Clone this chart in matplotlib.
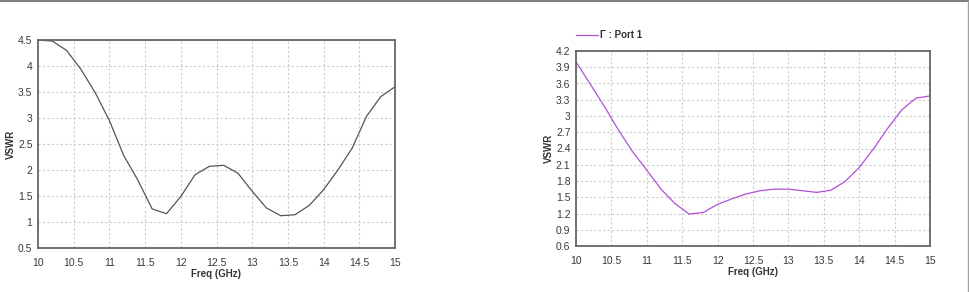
import matplotlib
matplotlib.use("Agg")
import matplotlib.pyplot as plt
from matplotlib.lines import Line2D

plt.rcParams['font.family'] = ['Liberation Sans', 'DejaVu Sans']

# frequency samples (GHz)
freq = [10.0, 10.2, 10.4, 10.6, 10.8, 11.0, 11.2, 11.4, 11.6, 11.8, 12.0, 12.2, 12.4,
        12.6, 12.8, 13.0, 13.2, 13.4, 13.6, 13.8, 14.0, 14.2, 14.4, 14.6, 14.8, 15.0]

# left chart VSWR
vswr_left = [4.50, 4.48, 4.30, 3.94, 3.49, 2.95, 2.28, 1.80, 1.25, 1.16, 1.49, 1.91, 2.07,
             2.09, 1.94, 1.59, 1.27, 1.12, 1.14, 1.32, 1.62, 2.00, 2.42, 3.03, 3.41, 3.60]

# right chart VSWR (Port 1)
vswr_right = [4.00, 3.59, 3.18, 2.74, 2.34, 2.00, 1.65, 1.38, 1.19, 1.22, 1.37, 1.47, 1.56,
              1.62, 1.65, 1.65, 1.62, 1.59, 1.63, 1.79, 2.05, 2.39, 2.77, 3.11, 3.33, 3.37]

x_ticks = [10, 10.5, 11, 11.5, 12, 12.5, 13, 13.5, 14, 14.5, 15]
x_ticklabels = ["10", "10.5", "11", "11.5", "12", "12.5", "13", "13.5", "14", "14.5", "15"]
y_ticks_left = [0.5, 1, 1.5, 2, 2.5, 3, 3.5, 4, 4.5]
y_ticklabels_left = ["0.5", "1", "1.5", "2", "2.5", "3", "3.5", "4", "4.5"]
y_ticks_right = [0.6, 0.9, 1.2, 1.5, 1.8, 2.1, 2.4, 2.7, 3.0, 3.3, 3.6, 3.9, 4.2]
y_ticklabels_right = ["0.6", "0.9", "1.2", "1.5", "1.8", "2.1", "2.4", "2.7", "3", "3.3", "3.6", "3.9", "4.2"]

fig = plt.figure(figsize=(9.7, 2.92), dpi=100)

ax1 = fig.add_axes([38 / 970, 1 - 248 / 292, 357 / 970, 208 / 292])
ax2 = fig.add_axes([576 / 970, 1 - 246 / 292, 354 / 970, 195 / 292])


def style(ax, yticks, ylabels):
    ax.set_xlim(10, 15)
    ax.set_ylim(yticks[0], yticks[-1])
    ax.set_xticks(x_ticks)
    ax.set_xticklabels(x_ticklabels)
    ax.set_yticks(yticks)
    ax.set_yticklabels(ylabels)
    ax.tick_params(length=0, labelsize=7.5, colors="#3a3a3a")
    ax.tick_params(axis="x", pad=7)
    ax.tick_params(axis="y", pad=4)
    ax.grid(True, color="#cccccc", linestyle=(0, (2, 2)), linewidth=0.8)
    for s in ax.spines.values():
        s.set_color("#666666")
        s.set_linewidth(1.3)
    ax.set_xlabel("Freq (GHz)", fontsize=7, fontweight="bold", color="#333333", labelpad=1)
    ax.set_ylabel("VSWR", fontsize=7, fontweight="bold", color="#333333", labelpad=1.5)


style(ax1, y_ticks_left, y_ticklabels_left)
style(ax2, y_ticks_right, y_ticklabels_right)

ax1.plot(freq, vswr_left, color="#5e4e60", linewidth=0.9)
ax2.plot(freq, vswr_right, color="#b24fd6", linewidth=0.9, label="Γ : Port 1")

leg = ax2.legend(loc="lower left", bbox_to_anchor=(0.0, 1.055), frameon=False,
                 handlelength=2.3, handletextpad=0.2, borderaxespad=0, borderpad=0,
                 prop={"size": 7, "weight": "bold"})
for t in leg.get_texts():
    t.set_color("#333333")

# outer frame lines of the screenshot
fig.add_artist(Line2D([0, 1], [0.996, 0.996], transform=fig.transFigure, color="#808080", linewidth=1.5))
fig.add_artist(Line2D([968 / 970, 968 / 970], [0, 0.996], transform=fig.transFigure, color="#a0a0a0", linewidth=1.0))

fig.savefig("out.png", dpi=100)
